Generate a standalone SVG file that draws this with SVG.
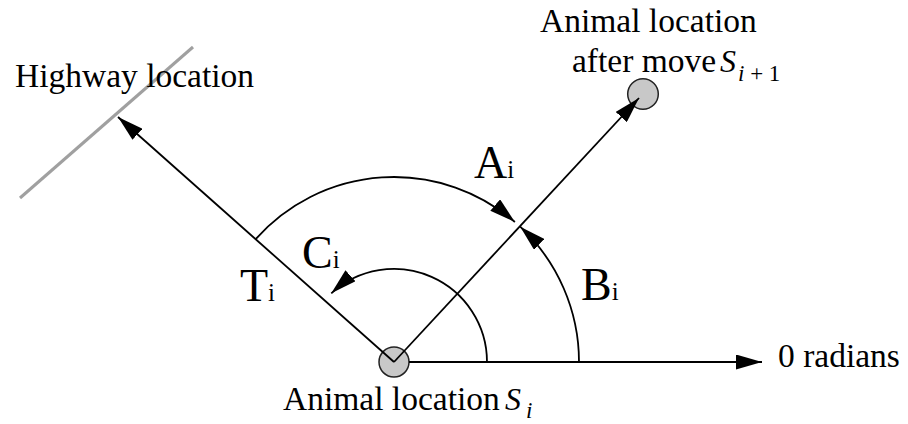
<svg xmlns="http://www.w3.org/2000/svg" width="908" height="424" viewBox="0 0 908 424">
  <style>
    .ln { stroke: #000; stroke-width: 1.8; fill: none; }
    .arc { stroke: #000; stroke-width: 1.8; fill: none; marker-end: url(#ah); }
    .pt { fill: #c8c8c8; stroke: #222; stroke-width: 1.5; }
    .hw { stroke: #a0a0a0; stroke-width: 3; fill: none; }
    .t { font-family: "Liberation Serif", "Times New Roman", serif; font-size: 33.5px; fill: #000; }
    .s { font-family: "Liberation Serif", "Times New Roman", serif; font-style: italic; font-size: 32px; fill: #000; }
    .ss { font-family: "Liberation Serif", "Times New Roman", serif; font-size: 23px; fill: #000; }
    .it { font-style: italic; }
    .lab { font-family: "Liberation Serif", "Times New Roman", serif; font-size: 46px; fill: #000; }
    .sub { font-size: 25px; }
  </style>
  <defs>
    <marker id="ah" viewBox="0 0 26 15" markerWidth="26" markerHeight="15" refX="26" refY="7.5" orient="auto" markerUnits="userSpaceOnUse">
      <path d="M0,0 L26,7.5 L0,15 z" fill="#000"/>
    </marker>
  </defs>

  <g id="highway">
    <line class="hw" x1="20" y1="198" x2="193" y2="47"/>
    <text class="t" x="15" y="87">Highway location</text>
  </g>

  <g id="animal-si">
    <circle class="pt" cx="394" cy="362" r="15"/>
    <text class="t" x="283" y="410">Animal location</text>
    <text class="s" x="505" y="410">S</text>
    <text class="ss it" x="526" y="418">i</text>
  </g>

  <g id="animal-si1">
    <circle class="pt" cx="643" cy="94" r="15.3"/>
    <text class="t" x="540" y="32">Animal location</text>
    <text class="t" x="572" y="72">after move</text>
    <text class="s" x="720" y="72">S</text>
    <text class="ss" x="738" y="81"><tspan class="it">i</tspan> + 1</text>
  </g>

  <g id="zero">
    <text class="t" x="778" y="367">0 radians</text>
  </g>

  <g id="connectors">
    <line class="ln" x1="409" y1="362" x2="762" y2="362" marker-end="url(#ah)"/>
    <line class="ln" x1="394" y1="362" x2="639" y2="98" marker-end="url(#ah)"/>
    <line class="ln" x1="394" y1="362" x2="118" y2="117" marker-end="url(#ah)"/>
    <path class="arc" d="M255.9,238.9 A185,185 0 0 1 514.9,222"/>
    <path class="arc" d="M579,362 A185,185 0 0 0 520.2,226.7"/>
    <path class="arc" d="M487,362 A93,93 0 0 0 331.3,293.3"/>
  </g>

  <g id="labels">
    <text class="lab" x="474" y="178">A<tspan class="sub">i</tspan></text>
    <text class="lab" x="581" y="300">B<tspan class="sub">i</tspan></text>
    <text class="lab" x="302" y="268">C<tspan class="sub">i</tspan></text>
    <text class="lab" x="240" y="301">T<tspan class="sub">i</tspan></text>
  </g>
</svg>
